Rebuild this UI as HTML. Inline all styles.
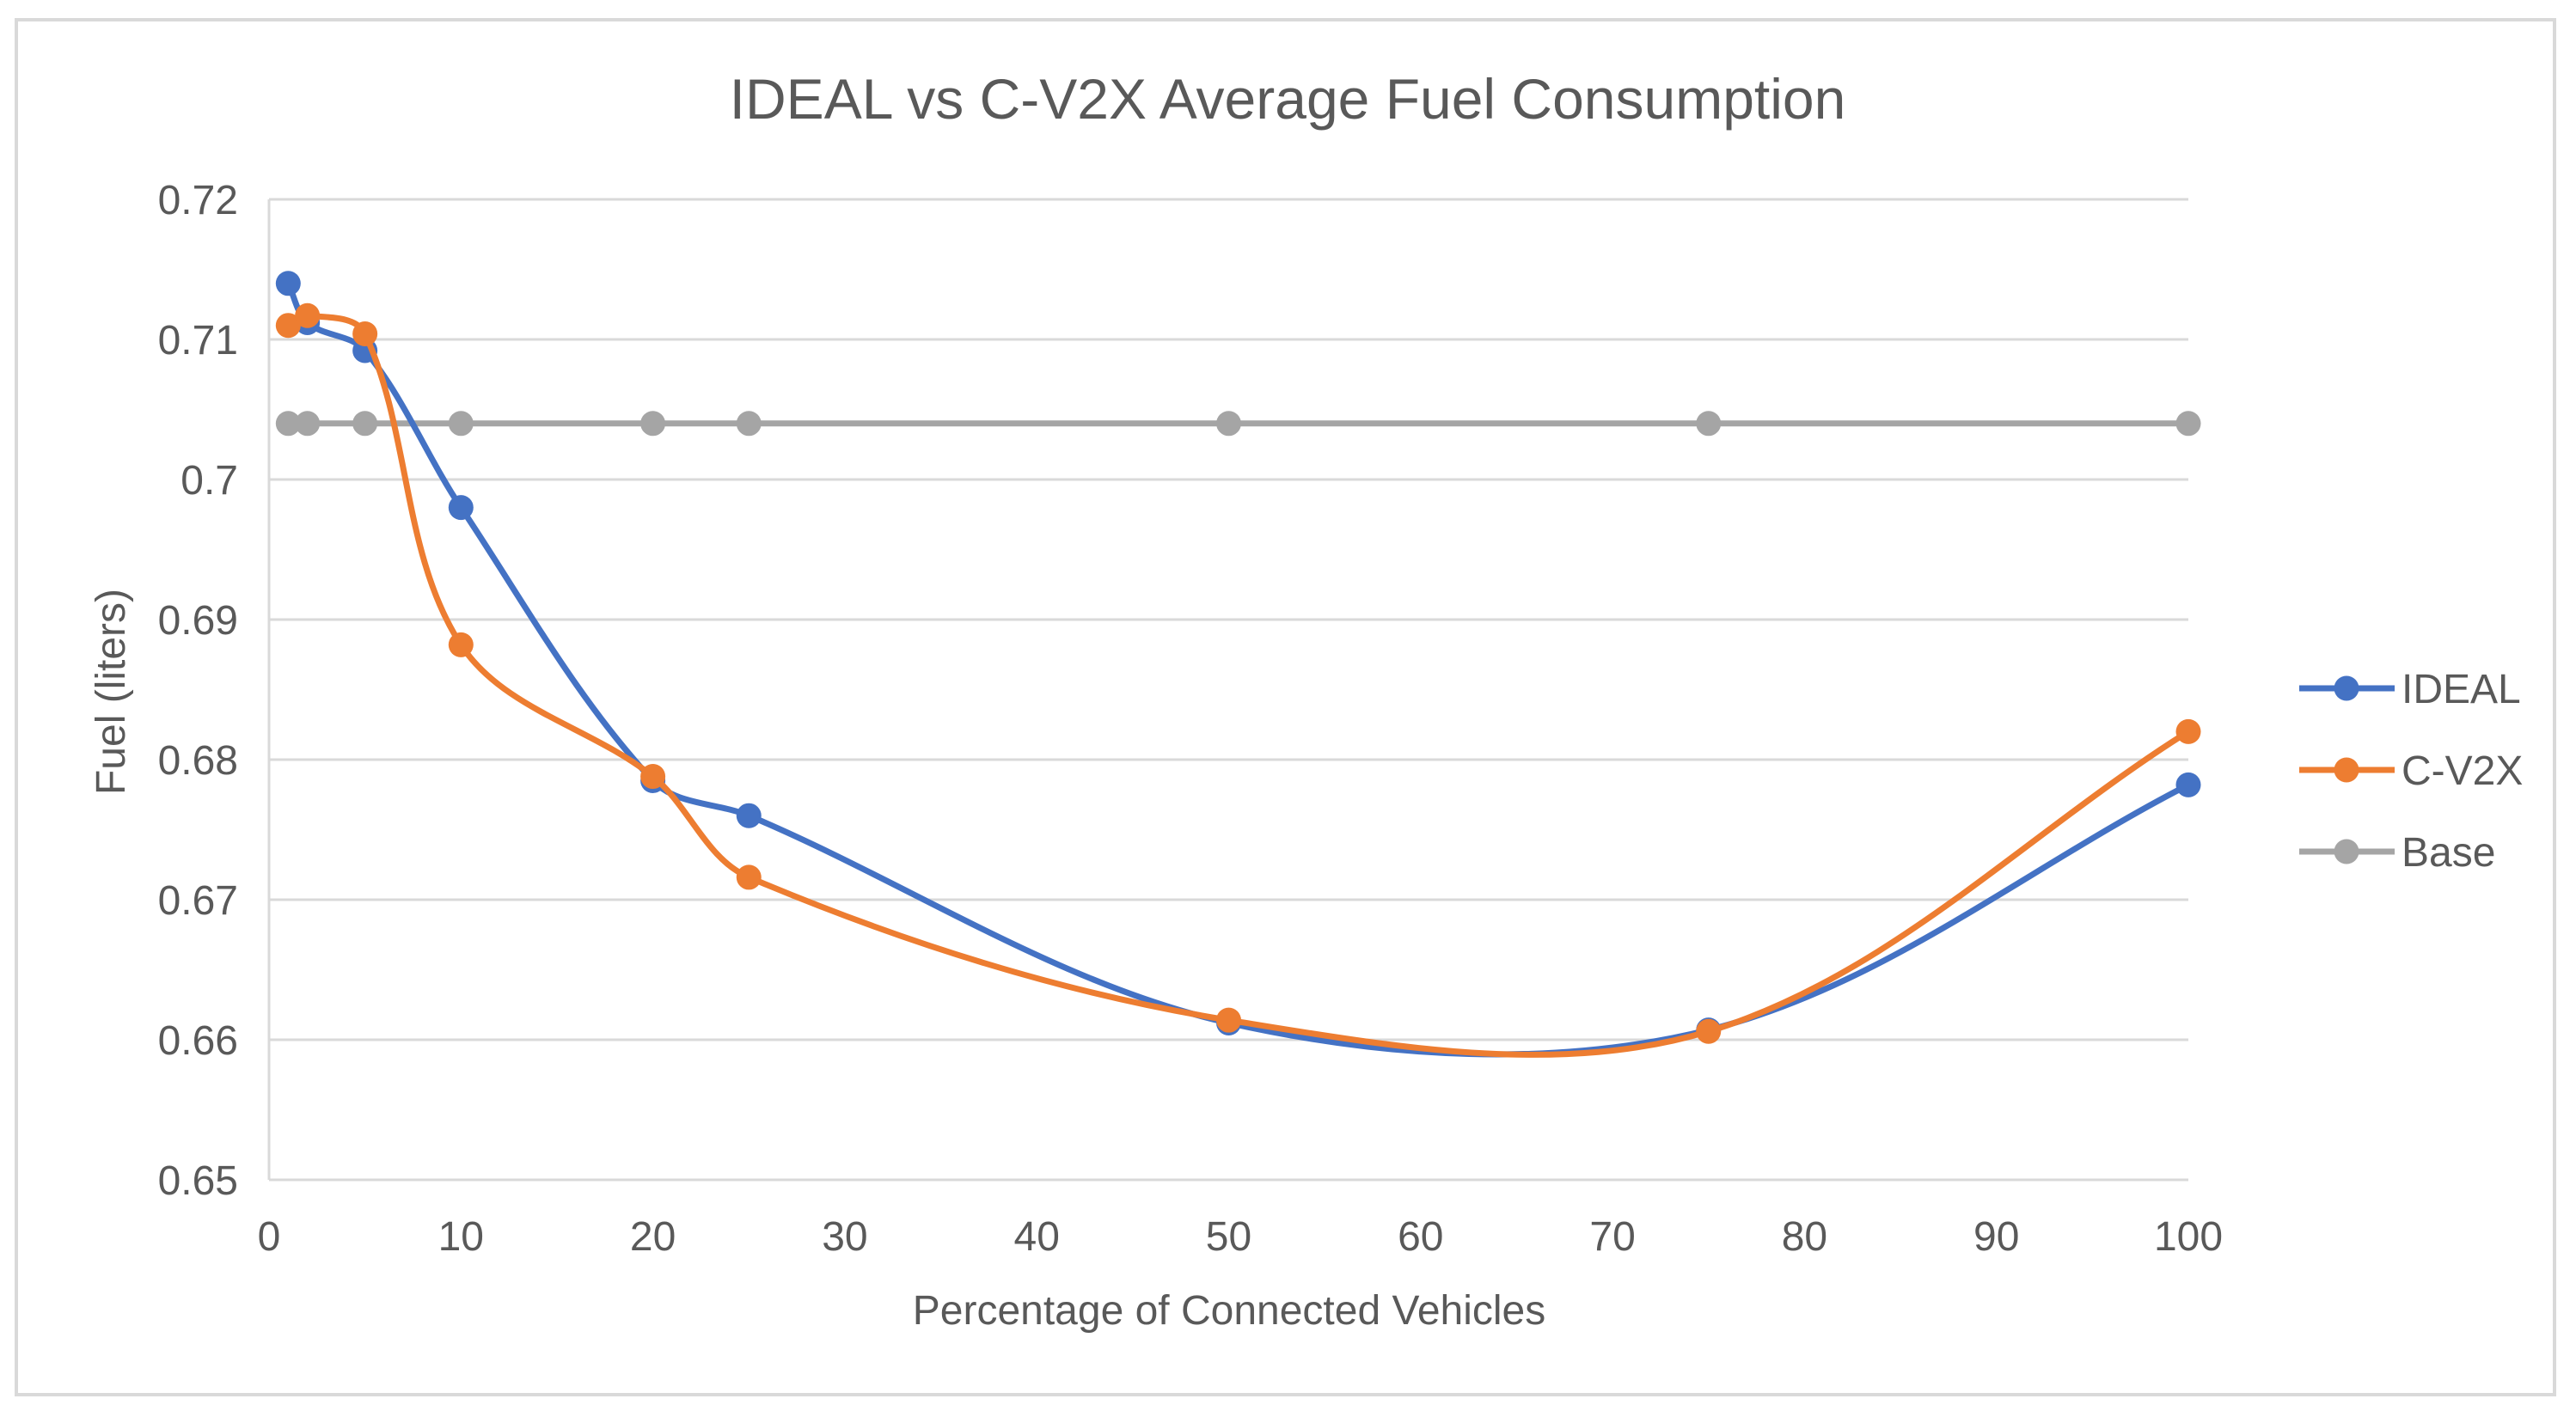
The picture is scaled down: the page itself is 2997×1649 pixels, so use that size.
<!DOCTYPE html>
<html><head><meta charset="utf-8"><style>
html,body{margin:0;padding:0;background:#fff;}
svg text{font-family:"Liberation Sans",sans-serif;fill:#595959;}
</style></head><body>
<svg id="chart" width="2997" height="1644" viewBox="0 0 2997 1644" xmlns="http://www.w3.org/2000/svg">
<rect x="19" y="23" width="2953" height="1600" fill="#fff" stroke="#d9d9d9" stroke-width="4"/>
<text x="1498" y="138" font-size="66" text-anchor="middle">IDEAL vs C-V2X Average Fuel Consumption</text>
<text transform="translate(145,805) rotate(-90)" font-size="48" text-anchor="middle">Fuel (liters)</text>
<text x="1430" y="1541" font-size="48" text-anchor="middle">Percentage of Connected Vehicles</text>
<g id="grid"></g><g id="series"></g><g id="legend"></g>
</svg>
<script>
const xValues=[1,2,5,10,20,25,50,75,100];
const idealValues=[0.714,0.7112,0.7092,0.698,0.6785,0.676,0.6612,0.6607,0.6782];
const cv2xValues=[0.711,0.7117,0.7104,0.6882,0.6788,0.6716,0.6614,0.6606,0.682];
const baseValues=[0.704,0.704,0.704,0.704,0.704,0.704,0.704,0.704,0.704];
const yTicks=[0.65,0.66,0.67,0.68,0.69,0.7,0.71,0.72];
const yTickLabels=["0.65","0.66","0.67","0.68","0.69","0.7","0.71","0.72"];
const xTicks=[0,10,20,30,40,50,60,70,80,90,100];
const seriesNames=["IDEAL","C-V2X","Base"];
const NS="http://www.w3.org/2000/svg";
const X0=313,X1=2546,Y0=1373,Y1=232;
function sx(v){return X0+(v-0)/(100-0)*(X1-X0);}
function sy(v){return Y0-(v-0.65)/(0.72-0.65)*(Y0-Y1);}
function mk(tag,attrs,parent){const e=document.createElementNS(NS,tag);for(const k in attrs)e.setAttribute(k,attrs[k]);parent.appendChild(e);return e;}
const grid=document.getElementById('grid');
yTicks.forEach((t,i)=>{
  const l=mk('line',{x1:X0,x2:X1,y1:sy(t),y2:sy(t),stroke:'#d9d9d9','stroke-width':3},grid);
  
  
  const tx=mk('text',{x:X0-36,y:sy(t)+17,'font-size':48,'text-anchor':'end'},grid);
  tx.textContent=yTickLabels[i];
  
  
});
const ax=mk('line',{x1:X0,x2:X0,y1:Y1,y2:Y0,stroke:'#d9d9d9','stroke-width':3},grid);


xTicks.forEach(t=>{
  const tx=mk('text',{x:sx(t),y:1455,'font-size':48,'text-anchor':'middle'},grid);
  tx.textContent=String(t);
  
  
});
function smooth(pts){
  let d='M'+pts[0][0]+','+pts[0][1];
  const tan=pts.map((p,i)=>{
    const a=pts[i-1]||p,b=pts[i+1]||p;
    const dx=b[0]-a[0],dy=b[1]-a[1],L=Math.hypot(dx,dy)||1;
    return [dx/L,dy/L];
  });
  for(let i=0;i<pts.length-1;i++){
    const p1=pts[i],p2=pts[i+1];
    const s=Math.hypot(p2[0]-p1[0],p2[1]-p1[1])/3;
    const c1=[p1[0]+tan[i][0]*s,p1[1]+tan[i][1]*s];
    const c2=[p2[0]-tan[i+1][0]*s,p2[1]-tan[i+1][1]*s];
    d+=' C'+c1+' '+c2+' '+p2;
  }
  return d;
}
const sg=document.getElementById('series');
const allSeries=[[baseValues,'#a5a5a5','base'],[idealValues,'#4472c4','ideal'],[cv2xValues,'#ed7d31','cv2x']];
allSeries.forEach(([vals,col,nm])=>{
  const pts=xValues.map((x,i)=>[sx(x),sy(vals[i])]);
  const p=mk('path',{d:smooth(pts),fill:'none',stroke:col,'stroke-width':7,'stroke-linecap':'round'},sg);
  
  
  pts.forEach(pt=>{
    const c=mk('circle',{cx:pt[0],cy:pt[1],r:14.5,fill:col},sg);
    
    
  });
});
const lg=document.getElementById('legend');
const lcols=['#4472c4','#ed7d31','#a5a5a5'];const lys=[801,896,991];
seriesNames.forEach((n,i)=>{
  const g=mk('g',{},lg);
  
  
  mk('line',{x1:2675,x2:2786,y1:lys[i],y2:lys[i],stroke:lcols[i],'stroke-width':7},g);
  mk('circle',{cx:2730,cy:lys[i],r:14.5,fill:lcols[i]},g);
  const t=mk('text',{x:2794,y:lys[i]+17,'font-size':48},g);
  t.textContent=n;
});
</script>
</body></html>
